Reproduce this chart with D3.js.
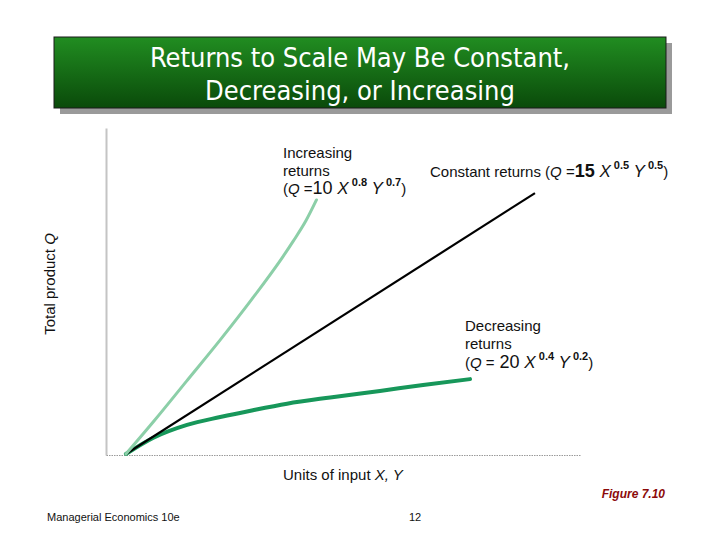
<!DOCTYPE html>
<html><head><meta charset="utf-8">
<script src="https://cdn.jsdelivr.net/npm/d3@7"></script>
<style>body{margin:0;background:#fff}svg{display:block}</style>
</head><body>
<script>
// Data (units of input vs total product, arbitrary units 0-100)
const increasingX = [4.2, 10.3, 17.0, 24.1, 30.7, 37.3, 39.5, 42.2, 44.4];
const increasingQ = [0.3, 10.7, 22.6, 35.2, 47.5, 60.6, 65.4, 71.7, 78.0];
const constantX = [4.2, 90.5];
const constantQ = [0.3, 80.1];
const decreasingX = [4.2, 9.9, 17.1, 24.1, 31.0, 38.2, 47.3, 57.8, 66.9, 76.8];
const decreasingQ = [0.3, 5.2, 9.2, 11.6, 13.7, 15.7, 17.6, 19.6, 21.4, 23.2];
const titleLines = ["Returns to Scale May Be Constant,", "Decreasing, or Increasing"];
const xLabel = "Units of input ";
const yLabel = "Total product ";

const W = 720, H = 540;
const svg = d3.select("body").append("svg").attr("width", W).attr("height", H);
const defs = svg.append("defs");
const grad = defs.append("linearGradient").attr("id", "tg").attr("x1", 0).attr("y1", 0).attr("x2", 0).attr("y2", 1);
grad.append("stop").attr("offset", "0%").attr("stop-color", "#218d21");
grad.append("stop").attr("offset", "100%").attr("stop-color", "#0a4a0a");

// Title box
svg.append("rect").attr("x", 60).attr("y", 43).attr("width", 612).attr("height", 71).attr("fill", "#9a9a9a");
svg.append("rect").attr("x", 54).attr("y", 37).attr("width", 612).attr("height", 71).attr("fill", "url(#tg)").attr("stroke", "#1a1a1a").attr("stroke-width", 1);
svg.append("g").selectAll("text").data(titleLines).join("text")
  .attr("x", 360).attr("y", (d, i) => 67 + i * 33)
  .attr("text-anchor", "middle").attr("fill", "#fff")
  .attr("font-family", "DejaVu Sans Condensed, DejaVu Sans, sans-serif").attr("font-size", 27)
  .text(d => d);

// Scales
const x = d3.scaleLinear().domain([0, 100]).range([106, 580]);
const y = d3.scaleLinear().domain([0, 100]).range([455, 128]);

// Axes
const yAxis = svg.append("g").attr("transform", `translate(${x(0)},0)`)
  .call(d3.axisLeft(y).tickValues([]).tickSizeOuter(0));
yAxis.select(".domain").attr("stroke", "#c4c4c4").attr("stroke-width", 2);
const xAxis = svg.append("g").attr("transform", `translate(0,${y(0)})`)
  .call(d3.axisBottom(x).tickValues([]).tickSizeOuter(0));
xAxis.select(".domain").attr("stroke", "#9a9a9a").attr("stroke-width", 1.2).attr("stroke-dasharray", "1.5,1");

// Lines
const line = d3.line().x(d => x(d[0])).y(d => y(d[1])).curve(d3.curveMonotoneX);
const zip = (a, b) => a.map((v, i) => [v, b[i]]);
svg.append("path").datum(zip(decreasingX, decreasingQ)).attr("d", line)
  .attr("fill", "none").attr("stroke", "#17975a").attr("stroke-width", 4).attr("stroke-linecap", "round");
svg.append("path").datum(zip(constantX, constantQ)).attr("d", line)
  .attr("fill", "none").attr("stroke", "#000").attr("stroke-width", 2.2);
svg.append("path").datum(zip(increasingX, increasingQ)).attr("d", line)
  .attr("fill", "none").attr("stroke", "#8ccfa8").attr("stroke-width", 3).attr("stroke-linecap", "round");

// Labels
const F = "Liberation Sans, Arial, Helvetica, sans-serif";
function addFormula(t, coef, e1, e2, coefBold) {
  t.append("tspan").text("(");
  t.append("tspan").attr("font-style", "italic").text("Q");
  t.append("tspan").text(" =");
  t.append("tspan").attr("font-size", 18).attr("font-weight", coefBold ? "bold" : "normal").text(coef);
  t.append("tspan").attr("font-size", 17).attr("font-style", "italic").text(" X");
  t.append("tspan").attr("font-size", 11).attr("font-weight", "bold").attr("dy", -8).text(" " + e1);
  t.append("tspan").attr("font-size", 17).attr("font-style", "italic").attr("dy", 8).text(" Y");
  t.append("tspan").attr("font-size", 11).attr("font-weight", "bold").attr("dy", -8).text(" " + e2);
  t.append("tspan").attr("dy", 8).text(")");
  return t;
}
function plain(xp, yp, s) {
  return svg.append("text").attr("x", xp).attr("y", yp).attr("font-family", F).attr("font-size", 15).attr("fill", "#111").text(s);
}
plain(283, 158, "Increasing");
plain(283, 176, "returns");
addFormula(plain(283, 194, ""), "10", "0.8", "0.7", false);

addFormula(plain(430, 177, "Constant returns "), "15", "0.5", "0.5", true);

plain(465, 331, "Decreasing");
plain(465, 349, "returns");
addFormula(plain(465, 368, ""), " 20", "0.4", "0.2", false);

// Axis titles
const xl = plain(283, 480, xLabel);
xl.append("tspan").attr("font-style", "italic").text("X, Y");
const yl = svg.append("text").attr("transform", "translate(55,284) rotate(-90)").attr("text-anchor", "middle")
  .attr("font-family", F).attr("font-size", 15).attr("fill", "#111").text(yLabel);
yl.append("tspan").attr("font-style", "italic").text("Q");

// Footer
svg.append("text").attr("x", 665).attr("y", 498).attr("text-anchor", "end").attr("font-family", F)
  .attr("font-size", 12).attr("font-weight", "bold").attr("font-style", "italic").attr("fill", "#8b0a0a").text("Figure 7.10");
svg.append("text").attr("x", 47).attr("y", 521).attr("font-family", F).attr("font-size", 11).attr("fill", "#111").text("Managerial Economics 10e");
svg.append("text").attr("x", 409).attr("y", 521).attr("font-family", F).attr("font-size", 11).attr("fill", "#111").text("12");
</script>
</body></html>
